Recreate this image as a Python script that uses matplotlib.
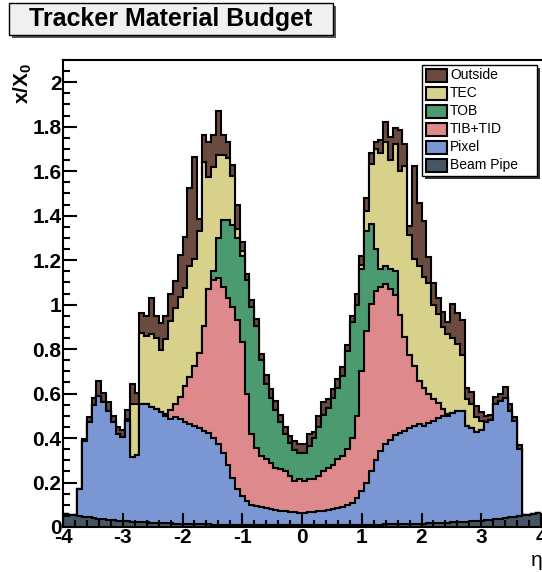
import numpy as np
import matplotlib
matplotlib.use("Agg")
import matplotlib.pyplot as plt
from matplotlib.patches import Rectangle
from matplotlib.ticker import MultipleLocator, FuncFormatter

plt.rcParams["font.family"] = ["Liberation Sans", "DejaVu Sans"]
plt.rcParams["axes.unicode_minus"] = False
plt.rcParams["mathtext.fontset"] = "custom"
plt.rcParams["mathtext.bf"] = "Liberation Sans:bold"
plt.rcParams["mathtext.rm"] = "Liberation Sans:bold"

W, H = 542, 572

# 100 eta bins from -4 to 4 (width 0.08), material per sub-detector in x/X0
eta_edges = np.linspace(-4.0, 4.0, 101)

beam_pipe = [
    0.058, 0.055, 0.052, 0.049, 0.046, 0.043, 0.040, 0.037, 0.034, 0.032,
    0.030, 0.028, 0.026, 0.025, 0.024, 0.023, 0.022, 0.021, 0.020, 0.019,
    0.018, 0.017, 0.016, 0.015, 0.015, 0.014, 0.014, 0.013, 0.013, 0.012,
    0.012, 0.011, 0.011, 0.011, 0.010, 0.010, 0.010, 0.010, 0.009, 0.009,
    0.009, 0.009, 0.009, 0.009, 0.008, 0.008, 0.008, 0.008, 0.008, 0.008,
    0.008, 0.008, 0.008, 0.008, 0.008, 0.009, 0.009, 0.009, 0.009, 0.009,
    0.010, 0.010, 0.010, 0.010, 0.011, 0.011, 0.011, 0.012, 0.012, 0.012,
    0.013, 0.013, 0.014, 0.014, 0.015, 0.015, 0.016, 0.017, 0.018, 0.019,
    0.020, 0.021, 0.022, 0.023, 0.024, 0.025, 0.026, 0.028, 0.030, 0.032,
    0.034, 0.037, 0.040, 0.043, 0.046, 0.049, 0.052, 0.055, 0.058, 0.061,
]
pixel = [
    0.0, 0.0, 0.0, 0.12, 0.34, 0.43, 0.51, 0.55, 0.53, 0.49,
    0.44, 0.39, 0.38, 0.45, 0.29, 0.30, 0.53, 0.53, 0.52, 0.51,
    0.50, 0.48, 0.47, 0.48, 0.47, 0.46, 0.45, 0.44, 0.43, 0.42,
    0.41, 0.39, 0.36, 0.32, 0.27, 0.21, 0.16, 0.13, 0.11, 0.09,
    0.086, 0.081, 0.076, 0.071, 0.068, 0.065, 0.062, 0.060, 0.058, 0.057,
    0.057, 0.058, 0.060, 0.062, 0.064, 0.066, 0.071, 0.076, 0.081, 0.091,
    0.10, 0.12, 0.15, 0.19, 0.24, 0.29, 0.33, 0.36, 0.38, 0.40,
    0.41, 0.42, 0.43, 0.44, 0.45, 0.44, 0.45, 0.46, 0.47, 0.48,
    0.48, 0.49, 0.50, 0.50, 0.43, 0.42, 0.40, 0.41, 0.44, 0.45,
    0.52, 0.53, 0.54, 0.48, 0.43, 0.30, 0.0, 0.0, 0.0, 0.0,
]
tib_tid = [
    0.0, 0.0, 0.0, 0.0, 0.0, 0.0, 0.0, 0.0, 0.0, 0.0,
    0.0, 0.0, 0.0, 0.0, 0.0, 0.0, 0.0, 0.0, 0.0, 0.0,
    0.0, 0.01, 0.04, 0.06, 0.10, 0.16, 0.21, 0.27, 0.34, 0.47,
    0.65, 0.71, 0.75, 0.75, 0.75, 0.77, 0.76, 0.69, 0.48, 0.32,
    0.26, 0.23, 0.22, 0.21, 0.19, 0.19, 0.18, 0.16, 0.14, 0.15,
    0.14, 0.15, 0.15, 0.16, 0.18, 0.19, 0.20, 0.22, 0.23, 0.25,
    0.29, 0.37, 0.54, 0.68, 0.75, 0.76, 0.74, 0.72, 0.68, 0.63,
    0.53, 0.42, 0.33, 0.27, 0.19, 0.17, 0.13, 0.10, 0.07, 0.03,
    0.01, 0.0, 0.0, 0.0, 0.0, 0.0, 0.0, 0.0, 0.0, 0.0,
    0.0, 0.0, 0.0, 0.0, 0.0, 0.0, 0.0, 0.0, 0.0, 0.0,
]
tob = [
    0.0, 0.0, 0.0, 0.0, 0.0, 0.0, 0.0, 0.0, 0.0, 0.0,
    0.0, 0.0, 0.0, 0.0, 0.0, 0.0, 0.0, 0.0, 0.0, 0.0,
    0.0, 0.0, 0.0, 0.0, 0.0, 0.0, 0.0, 0.0, 0.0, 0.0,
    0.0, 0.04, 0.18, 0.30, 0.35, 0.37, 0.37, 0.39, 0.51, 0.57,
    0.55, 0.43, 0.34, 0.29, 0.26, 0.21, 0.17, 0.15, 0.14, 0.12,
    0.13, 0.15, 0.18, 0.22, 0.25, 0.27, 0.30, 0.32, 0.36, 0.44,
    0.52, 0.50, 0.46, 0.45, 0.36, 0.19, 0.08, 0.08, 0.09, 0.11,
    0.0, 0.0, 0.0, 0.0, 0.0, 0.0, 0.0, 0.0, 0.0, 0.0,
    0.0, 0.0, 0.0, 0.0, 0.0, 0.0, 0.0, 0.0, 0.0, 0.0,
    0.0, 0.0, 0.0, 0.0, 0.0, 0.0, 0.0, 0.0, 0.0, 0.0,
]
tec = [
    0.0, 0.0, 0.0, 0.0, 0.0, 0.0, 0.0, 0.0, 0.0, 0.0,
    0.0, 0.0, 0.0, 0.01, 0.24, 0.23, 0.32, 0.31, 0.33, 0.32,
    0.28, 0.34, 0.40, 0.43, 0.45, 0.44, 0.50, 0.48, 0.55, 0.74,
    0.50, 0.47, 0.37, 0.29, 0.28, 0.22, 0.04, 0.02, 0.0, 0.0,
    0.0, 0.0, 0.0, 0.0, 0.0, 0.0, 0.0, 0.0, 0.0, 0.0,
    0.0, 0.0, 0.0, 0.0, 0.0, 0.0, 0.0, 0.0, 0.0, 0.0,
    0.0, 0.0, 0.02, 0.09, 0.27, 0.45, 0.52, 0.56, 0.49, 0.57,
    0.65, 0.77, 0.54, 0.48, 0.52, 0.50, 0.50, 0.42, 0.40, 0.37,
    0.36, 0.34, 0.30, 0.25, 0.12, 0.11, 0.07, 0.04, 0.0, 0.0,
    0.0, 0.0, 0.0, 0.0, 0.0, 0.0, 0.0, 0.0, 0.0, 0.0,
]
outside = [
    0.0, 0.0, 0.0, 0.0, 0.01, 0.02, 0.03, 0.07, 0.04, 0.04,
    0.03, 0.03, 0.03, 0.04, 0.09, 0.05, 0.09, 0.09, 0.16, 0.10,
    0.12, 0.10, 0.12, 0.12, 0.19, 0.23, 0.35, 0.46, 0.05, 0.12,
    0.16, 0.14, 0.20, 0.09, 0.07, 0.05, 0.11, 0.04, 0.03, 0.03,
    0.03, 0.03, 0.04, 0.04, 0.04, 0.03, 0.03, 0.03, 0.04, 0.04,
    0.04, 0.05, 0.03, 0.05, 0.06, 0.04, 0.04, 0.04, 0.04, 0.03,
    0.03, 0.05, 0.04, 0.06, 0.05, 0.03, 0.06, 0.09, 0.10, 0.07,
    0.18, 0.10, 0.04, 0.42, 0.28, 0.25, 0.12, 0.10, 0.07, 0.07,
    0.05, 0.15, 0.14, 0.16, 0.05, 0.05, 0.05, 0.04, 0.03, 0.02,
    0.03, 0.03, 0.05, 0.03, 0.02, 0.02, 0.0, 0.0, 0.0, 0.0,
]

layer_names = ["Beam Pipe", "Pixel", "TIB+TID", "TOB", "TEC", "Outside"]
layer_colors = ["#465664", "#7a97d4", "#de898b", "#4b9a70", "#d8d18b", "#6b4b40"]
layer_values = [beam_pipe, pixel, tib_tid, tob, tec, outside]


def fx(px):
    return px / W


def fy(py):
    return 1 - py / H


fig = plt.figure(figsize=(W / 100, H / 100), dpi=100)
fig.patch.set_facecolor("white")
ax = fig.add_axes([fx(63), fy(527), fx(541) - fx(63), fy(60) - fy(527)])

# THStack-like drawing: cumulative sums, top layer first
stacked = np.cumsum(np.array(layer_values), axis=0)
for level, color in zip(stacked[::-1], layer_colors[::-1]):
    ax.stairs(level, eta_edges, baseline=0, fill=True, facecolor=color,
              edgecolor="black", linewidth=1.5)

ax.set_xlim(-4, 4)
ax.set_ylim(0, 2.1)
ax.xaxis.set_major_locator(MultipleLocator(1))
ax.xaxis.set_minor_locator(MultipleLocator(0.2))
ax.yaxis.set_major_locator(MultipleLocator(0.2))
ax.yaxis.set_minor_locator(MultipleLocator(0.05))
ax.yaxis.set_major_formatter(FuncFormatter(lambda v, _: f"{v:g}"))
ax.xaxis.set_major_formatter(FuncFormatter(lambda v, _: f"{v:g}"))
ax.tick_params(which="both", direction="in", top=False, right=False, width=1.5)
ax.tick_params(which="major", length=10, labelsize=15, pad=1)
ax.tick_params(which="minor", length=5)
for lbl in ax.get_xticklabels() + ax.get_yticklabels():
    lbl.set_fontweight("bold")
for side in ("left", "bottom", "top"):
    ax.spines[side].set_linewidth(1.5)
ax.spines["right"].set_visible(False)

# axis titles
fig.text(fx(23), fy(83), r"$\mathbf{x/X_0}$", rotation=90, fontsize=15,
         ha="center", va="center")
fig.text(fx(537), fy(561), "η", fontsize=15, ha="center", va="center")

# title box with shadow
fig.patches.append(Rectangle((fx(12), fy(38)), (333 - 9) / W, 32 / H,
                             transform=fig.transFigure, facecolor="#555555",
                             edgecolor="none", zorder=1))
fig.patches.append(Rectangle((fx(9), fy(35)), (333 - 9) / W, 32 / H,
                             transform=fig.transFigure, facecolor="#f0f0f0",
                             edgecolor="black", linewidth=1, zorder=2))
fig.text(fx(171), fy(19), "Tracker Material Budget", fontsize=18,
         fontweight="bold", ha="center", va="center", zorder=3)

# legend box
lx0, lx1, ly0, ly1 = 422, 537, 65, 176
fig.patches.append(Rectangle((fx(lx0 + 3), fy(ly1 + 3)), (lx1 - lx0) / W,
                             (ly1 - ly0) / H, transform=fig.transFigure,
                             facecolor="#333333", edgecolor="none", zorder=5))
fig.patches.append(Rectangle((fx(lx0), fy(ly1)), (lx1 - lx0) / W,
                             (ly1 - ly0) / H, transform=fig.transFigure,
                             facecolor="white", edgecolor="black",
                             linewidth=1, zorder=6))
for k, (name, color) in enumerate(zip(layer_names[::-1], layer_colors[::-1])):
    yc = 75 + 18 * k
    fig.patches.append(Rectangle((fx(426), fy(yc + 6.5)), 21 / W, 13 / H,
                                 transform=fig.transFigure, facecolor=color,
                                 edgecolor="black", linewidth=1.5, zorder=7))
    fig.text(fx(450), fy(yc), name, fontsize=10, ha="left", va="center",
             zorder=8)

fig.savefig("out.png", dpi=100)
